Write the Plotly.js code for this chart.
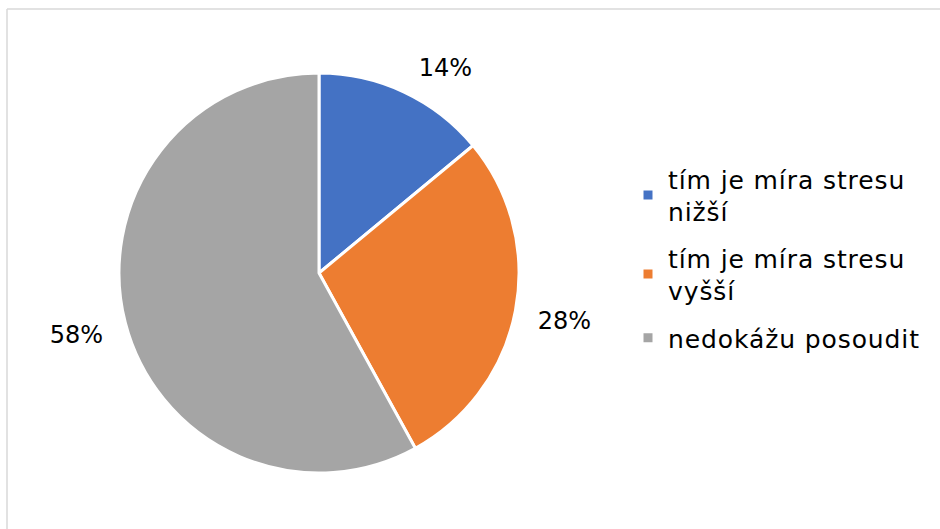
<!DOCTYPE html>
<html>
<head>
<meta charset="utf-8">
<script src="https://cdn.plot.ly/plotly-3.0.1.min.js"></script>
<style>html,body{margin:0;padding:0;background:#fff;}#chart{width:940px;height:529px;}
.legendtext{letter-spacing:0.9px;}
.legend .scrollbox{clip-path:none !important;}
.legend g.traces:nth-child(1){translate:0px -11px;}
.legend g.traces:nth-child(3){translate:0px 12px;}
.pielayer g.slice:nth-child(1) g.slicetext{translate:0px -13px;}
.pielayer g.slice:nth-child(2) g.slicetext{translate:0px 10px;}
.pielayer g.slice:nth-child(3) g.slicetext{translate:0px 11px;}
</style>
</head>
<body>
<div id="chart"></div>
<script>
const categories = ["tím je míra stresu<br>nižší", "tím je míra stresu<br>vyšší", "nedokážu posoudit"];
const values = [14, 28, 58];
const colors = ["#4472C4", "#ED7D31", "#A5A5A5"];
const labelTemplates = ["\u00A0%{percent}", "\u00A0\u00A0%{percent}", "%{percent}\u00A0\u00A0"];

const W = 940, H = 529;
const trace = {
  type: "pie",
  labels: categories,
  values: values,
  sort: false,
  direction: "clockwise",
  rotation: 0,
  marker: {colors: colors, line: {color: "#ffffff", width: 3}},
  texttemplate: labelTemplates,
  textposition: "outside",
  outsidetextfont: {family: "DejaVu Sans", size: 24, color: "#000000"},
  domain: {x: [119 / W, 519 / W], y: [1 - 473 / H, 1 - 73 / H]},
  hoverinfo: "none"
};
const layout = {
  width: W, height: H,
  margin: {l: 0, r: 0, t: 0, b: 0},
  paper_bgcolor: "#ffffff",
  font: {family: "DejaVu Sans", size: 24, color: "#000000"},
  showlegend: true,
  legend: {
    x: 628 / W, y: 1 - 258 / H, xanchor: "left", yanchor: "middle",
    bgcolor: "rgba(0,0,0,0)",
    font: {family: "DejaVu Sans", size: 25, color: "#000000"},
    itemwidth: 30
  },
  shapes: [
    {type: "line", xref: "paper", yref: "paper", x0: 7 / W, x1: 1, y0: 1 - 9 / H, y1: 1 - 9 / H, line: {color: "#d9d9d9", width: 1.5}},
    {type: "line", xref: "paper", yref: "paper", x0: 7 / W, x1: 7 / W, y0: 0, y1: 1 - 9 / H, line: {color: "#d9d9d9", width: 1.5}}
  ]
};
Plotly.newPlot("chart", [trace], layout, {staticPlot: true, displayModeBar: false});
</script>
</body>
</html>
